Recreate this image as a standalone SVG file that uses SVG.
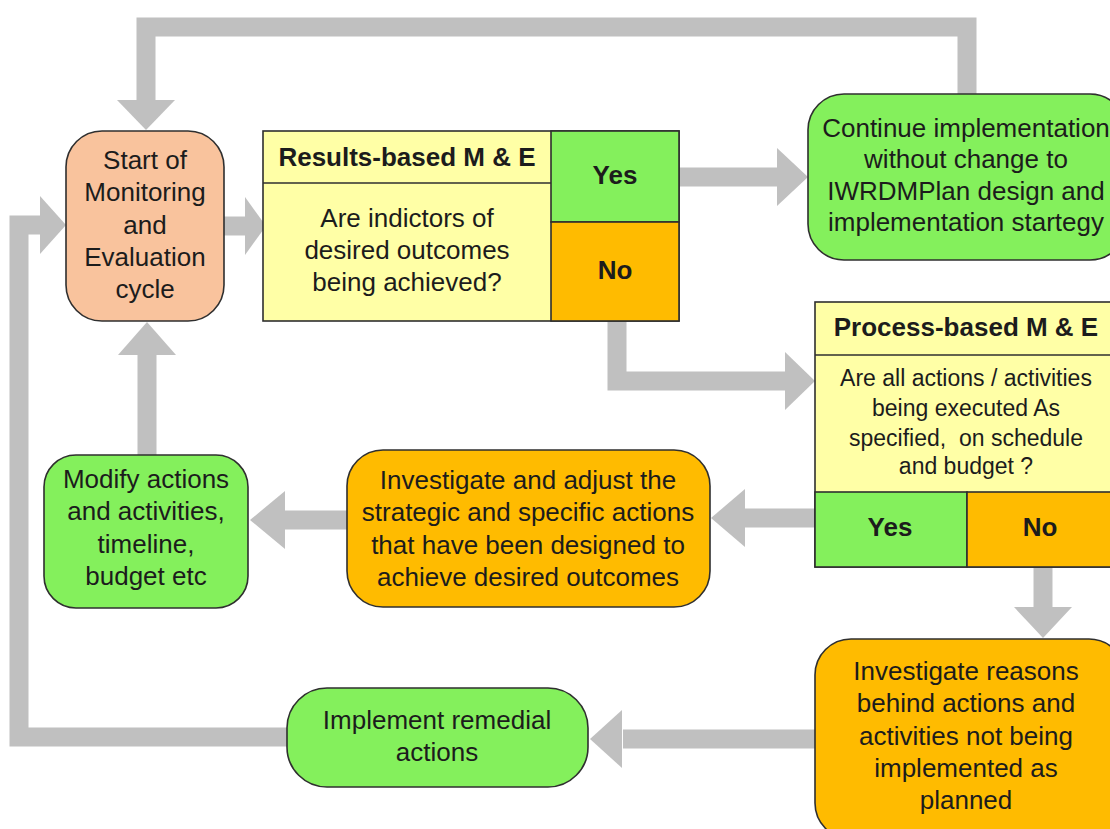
<svg xmlns="http://www.w3.org/2000/svg" width="1110" height="829" viewBox="0 0 1110 829">
  <style>
    .band { fill: none; stroke: #c0c0c0; stroke-width: 19; stroke-linejoin: miter; }
    .head { fill: #c0c0c0; }
    .box { stroke: #2f2f2f; stroke-width: 1.6; }
    .peach { fill: #f9c39d; }
    .green { fill: #84f05c; }
    .yellow { fill: #ffffa6; }
    .orange { fill: #ffbb00; }
    .rule { stroke: #2f2f2f; stroke-width: 1.6; fill: none; }
    text { font-family: "Liberation Sans", Arial, sans-serif; fill: #1c1c1c; text-anchor: middle; }
    .t { font-size: 26px; }
    .ts { font-size: 23px; }
    .b { font-size: 26px; font-weight: bold; }
  </style>
  <rect width="1110" height="829" fill="#ffffff"/>

  <g id="connectors">
    <!-- loop back from "Continue" to start -->
    <path class="band" d="M967,95 V27 H146 V102"/>
    <polygon class="head" points="117,100 175,100 146,130"/>
    <!-- start to results-based check -->
    <path class="band" d="M224,226 H248"/>
    <polygon class="head" points="245,197 245,255 266,226"/>
    <!-- yes to continue -->
    <path class="band" d="M679,177 H779"/>
    <polygon class="head" points="777,148 777,206 808,177"/>
    <!-- no to process-based check -->
    <path class="band" d="M617,321 V381 H787"/>
    <polygon class="head" points="785,352 785,410 815,381"/>
    <!-- process yes to investigate and adjust -->
    <path class="band" d="M815,518 H743"/>
    <polygon class="head" points="745,489 745,547 711,518"/>
    <!-- investigate and adjust to modify -->
    <path class="band" d="M347,520 H283"/>
    <polygon class="head" points="285,491 285,549 250,520"/>
    <!-- modify back to start -->
    <path class="band" d="M147,455 V353"/>
    <polygon class="head" points="118,355 176,355 147,322"/>
    <!-- process no to investigate reasons -->
    <path class="band" d="M1043,567 V607"/>
    <polygon class="head" points="1014,607 1072,607 1043,638"/>
    <!-- investigate reasons to remedial actions -->
    <path class="band" d="M815,739 H623"/>
    <polygon class="head" points="622,710 622,768 590,739"/>
    <!-- remedial actions back to start -->
    <path class="band" d="M287,737 H19 V225 H42"/>
    <polygon class="head" points="40,196 40,254 66,225"/>
  </g>

  <g id="start">
    <rect class="box peach" x="66" y="131" width="158" height="190" rx="36"/>
    <text class="t" x="145" y="169">Start of</text>
    <text class="t" x="145" y="201">Monitoring</text>
    <text class="t" x="145" y="234">and</text>
    <text class="t" x="145" y="266">Evaluation</text>
    <text class="t" x="145" y="298">cycle</text>
  </g>

  <g id="results-check">
    <rect class="box yellow" x="263" y="131" width="416" height="190"/>
    <rect class="box green" x="551" y="131" width="128" height="91"/>
    <rect class="box orange" x="551" y="222" width="128" height="99"/>
    <line class="rule" x1="263" y1="183" x2="551" y2="183"/>
    <text class="b" x="407" y="166">Results-based M &amp; E</text>
    <text class="t" x="407" y="227">Are indictors of</text>
    <text class="t" x="407" y="259">desired outcomes</text>
    <text class="t" x="407" y="291">being achieved?</text>
    <text class="b" x="615" y="184">Yes</text>
    <text class="b" x="615" y="279">No</text>
  </g>

  <g id="continue">
    <rect class="box green" x="808" y="94" width="318" height="166" rx="36"/>
    <text class="t" x="966" y="137">Continue implementation</text>
    <text class="t" x="966" y="168">without change to</text>
    <text class="t" x="966" y="200">IWRDMPlan design and</text>
    <text class="t" x="966" y="231">implementation startegy</text>
  </g>

  <g id="process-check">
    <rect class="box yellow" x="815" y="302" width="310" height="265"/>
    <line class="rule" x1="815" y1="355" x2="1125" y2="355"/>
    <rect class="box green" x="815" y="492" width="152" height="75"/>
    <rect class="box orange" x="967" y="492" width="158" height="75"/>
    <text class="b" x="966" y="336">Process-based M &amp; E</text>
    <text class="ts" x="966" y="386">Are all actions / activities</text>
    <text class="ts" x="966" y="416">being executed As</text>
    <text class="ts" x="966" y="446" xml:space="preserve">specified,  on schedule</text>
    <text class="ts" x="966" y="474">and budget ?</text>
    <text class="b" x="890" y="536">Yes</text>
    <text class="b" x="1040" y="536">No</text>
  </g>

  <g id="investigate-adjust">
    <rect class="box orange" x="347" y="450" width="363" height="157" rx="36"/>
    <text class="t" x="528" y="489">Investigate and adjust the</text>
    <text class="t" x="528" y="521">strategic and specific actions</text>
    <text class="t" x="528" y="554">that have been designed to</text>
    <text class="t" x="528" y="586">achieve desired outcomes</text>
  </g>

  <g id="modify">
    <rect class="box green" x="44" y="455" width="204" height="153" rx="32"/>
    <text class="t" x="146" y="488">Modify actions</text>
    <text class="t" x="146" y="520">and activities,</text>
    <text class="t" x="146" y="553">timeline,</text>
    <text class="t" x="146" y="585">budget etc</text>
  </g>

  <g id="investigate-reasons">
    <rect class="box orange" x="815" y="639" width="310" height="200" rx="36"/>
    <text class="t" x="966" y="680">Investigate reasons</text>
    <text class="t" x="966" y="712">behind actions and</text>
    <text class="t" x="966" y="745">activities not being</text>
    <text class="t" x="966" y="777">implemented as</text>
    <text class="t" x="966" y="809">planned</text>
  </g>

  <g id="remedial">
    <rect class="box green" x="287" y="688" width="301" height="99" rx="40"/>
    <text class="t" x="437" y="729">Implement remedial</text>
    <text class="t" x="437" y="761">actions</text>
  </g>
</svg>
